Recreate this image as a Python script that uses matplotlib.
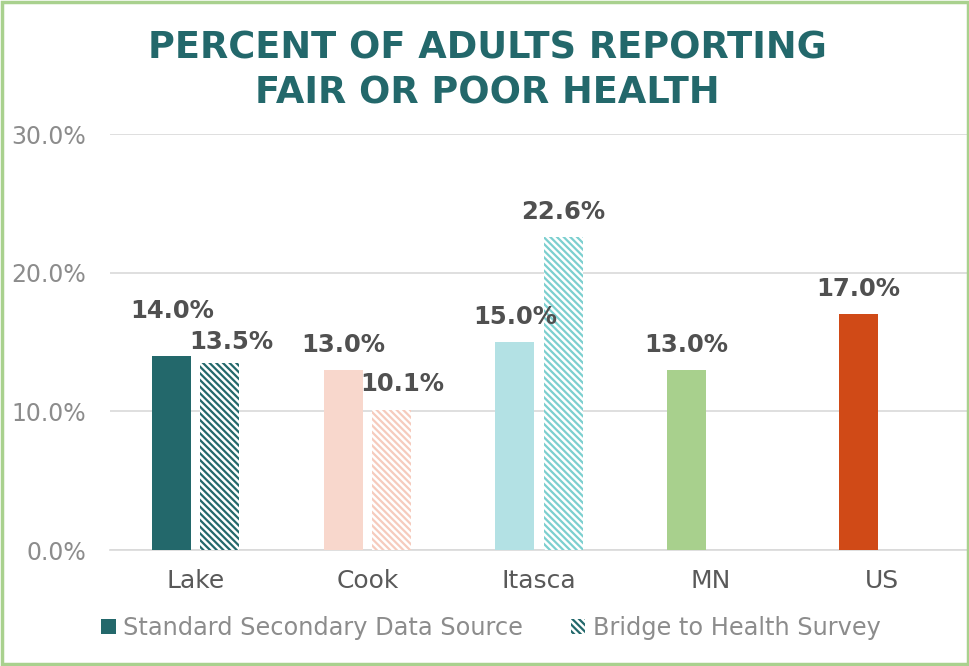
import matplotlib
matplotlib.use("Agg")
import matplotlib.pyplot as plt
from matplotlib.patches import Rectangle, Patch
from matplotlib.ticker import FuncFormatter
import numpy as np

categories = ["Lake", "Cook", "Itasca", "MN", "US"]
standard_values = [0.140, 0.130, 0.150, 0.130, 0.170]
bridge_values = [0.135, 0.101, 0.226, np.nan, np.nan]
series_names = ["Standard Secondary Data Source", "Bridge to Health Survey"]
title_text = "PERCENT OF ADULTS REPORTING\nFAIR OR POOR HEALTH"
y_ticks = [0.0, 0.10, 0.20, 0.30]

solid_colors = ["#23686b", "#f8d7cc", "#b3e1e4", "#a8d08d", "#d04a17"]
hatch_colors = ["#23686b", "#f6cbbd", "#7ccfcf", "#a8d08d", "#d04a17"]

HATCH = "\\" * 5

plt.rcParams["font.family"] = ["DejaVu Sans"]
plt.rcParams["hatch.linewidth"] = 1.6

fig = plt.figure(figsize=(9.70, 6.66), dpi=100)
ax = fig.add_axes([110/970, 1-550/666, 858/970, (550-134)/666])

x = np.arange(len(categories))
w = 0.227
off = 0.14

bars1 = ax.bar(x - off, standard_values, width=w, color=solid_colors, linewidth=0, zorder=3)
bars2 = ax.bar(x + off, bridge_values, width=w, color="white", edgecolor=hatch_colors,
               hatch=HATCH, linewidth=0, zorder=3)

# label offsets in points (dx, dy)
off1 = {0: (0, 32)}
off2 = {0: (8, 15), 1: (8, 19)}
lab_kw = dict(ha="center", va="center", fontsize=17.5, fontweight="bold", color="#505050", zorder=5)
for i, (b, v) in enumerate(zip(bars1, standard_values)):
    dx, dy = off1.get(i, (0, 18))
    ax.annotate(f"{v*100:.1f}%", (b.get_x()+b.get_width()/2, v), xytext=(dx, dy),
                textcoords="offset points", **lab_kw)
for i, (b, v) in enumerate(zip(bars2, bridge_values)):
    if np.isnan(v):
        continue
    dx, dy = off2.get(i, (0, 18))
    ax.annotate(f"{v*100:.1f}%", (b.get_x()+b.get_width()/2, v), xytext=(dx, dy),
                textcoords="offset points", **lab_kw)

ax.set_xlim(-0.5, len(categories)-0.5)
ax.set_ylim(0, 0.30)
ax.set_yticks(y_ticks)
ax.yaxis.set_major_formatter(FuncFormatter(lambda v, p: f"{v*100:.1f}%"))
ax.set_xticks(x)
ax.set_xticklabels(categories, fontsize=18, color="#595959")
ax.tick_params(axis="x", length=0, pad=14)
ax.tick_params(axis="y", length=0, pad=17, labelsize=17, labelcolor="#8c8c8c")
ax.grid(axis="y", color="#d9d9d9", linewidth=1.2, zorder=0)
for s in ["top", "right", "left"]:
    ax.spines[s].set_visible(False)
ax.spines["bottom"].set_color("#d9d9d9")
ax.spines["bottom"].set_linewidth(1.2)

fig.text(0.502, 1-70.5/666, title_text, ha="center", va="center", fontsize=26.5,
         fontweight="bold", color="#23686b", linespacing=1.3)

handles = [Patch(facecolor=solid_colors[0], linewidth=0),
           Patch(facecolor="white", edgecolor=hatch_colors[0], hatch=HATCH, linewidth=0)]
fig.legend(handles, series_names, loc="center", bbox_to_anchor=(491/970, 1-628/666),
           ncol=2, frameon=False, fontsize=17.3, labelcolor="#8c8c8c",
           handlelength=0.6, handleheight=0.6, handletextpad=0.3, columnspacing=2.0)

fig.patches.append(Rectangle((0.002, 0.003), 0.996, 0.994, transform=fig.transFigure,
                             fill=False, edgecolor="#a9d18e", linewidth=2.5))

fig.savefig("out.png", dpi=100)
